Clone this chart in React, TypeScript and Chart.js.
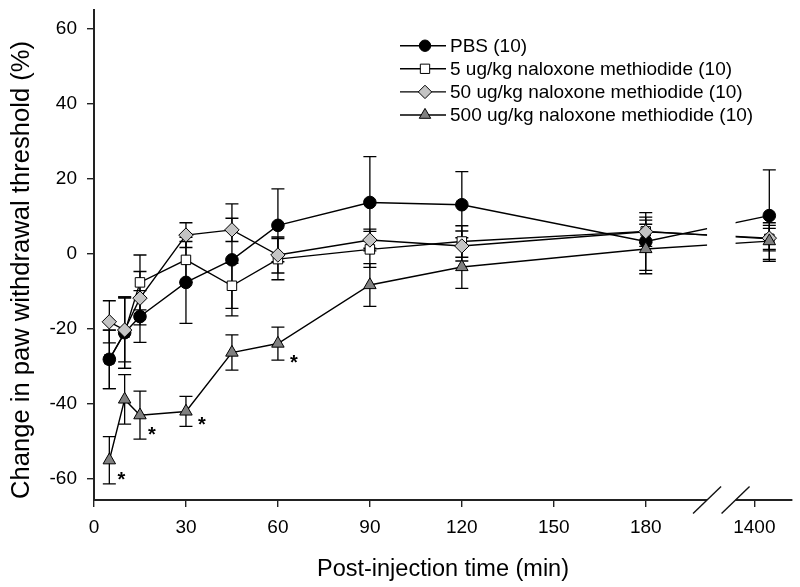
import React, { useEffect, useRef } from "react";
import { Chart, registerables } from "chart.js";

Chart.register(...registerables);

const FONT = "'Liberation Sans', Arial, sans-serif";

// Time points (min)
const TIMES = [5, 10, 15, 30, 45, 60, 90, 120, 180, 1440];

const SERIES_NAMES = [
  "PBS (10)",
  "5 ug/kg naloxone methiodide (10)",
  "50 ug/kg naloxone methiodide (10)",
  "500 ug/kg naloxone methiodide (10)",
];

const PBS = [-28.1, -21.0, -16.7, -7.6, -1.6, 7.6, 13.7, 13.1, 3.3, 10.2];
const PBS_SEM = [7.8, 9.5, 6.9, 10.9, 14.9, 9.7, 12.2, 8.8, 7.7, 12.2];

const NMX5 = [-28.1, -21.0, -7.6, -1.6, -8.5, -1.4, 1.2, 3.3, 6.0, 4.0];
const NMX5_SEM = [7.8, 9.5, 7.3, 6.0, 6.0, 5.5, 4.8, 4.2, 3.0, 2.8];

const NMX50 = [-18.1, -20.3, -11.8, 5.0, 6.4, -0.3, 3.7, 2.1, 5.9, 4.2];
const NMX50_SEM = [5.6, 8.5, 7.1, 3.3, 3.1, 4.8, 2.9, 4.0, 3.9, 3.4];

const NMX500 = [-55.0, -38.8, -43.0, -42.0, -26.3, -23.9, -8.3, -3.5, 1.3, 3.4];
const NMX500_SEM = [6.3, 6.6, 6.4, 4.0, 4.7, 4.4, 5.7, 5.7, 6.6, 4.9];

// Significance marks on the 500 ug/kg series (indices into TIMES)
const STAR_INDEX = [0, 2, 3, 5];

const X_TICKS = [0, 30, 60, 90, 120, 150, 180, 1400];
const Y_TICKS = [-60, -40, -20, 0, 20, 40, 60];

// Broken x axis: 0..200, gap, 1350..1500 (compressed)
const BREAK_START = 200;
const BREAK_END = 1350;
const AXIS_END = 1500;
const GAP_UNITS = 9.3;
const SEG2_SCALE = 0.1223;

function mapX(t: number): number {
  return t <= BREAK_START ? t : BREAK_START + GAP_UNITS + (t - BREAK_END) * SEG2_SCALE;
}

type Style = "circle" | "rect" | "rectRot" | "triangle";

// z: drawing layer (higher = on top)
const STYLES: { values: number[]; sem: number[]; style: Style; fill: string; r: number; lr: number; z: number }[] = [
  { values: PBS, sem: PBS_SEM, style: "circle", fill: "#000000", r: 6.3, lr: 5.7, z: 2 },
  { values: NMX5, sem: NMX5_SEM, style: "rect", fill: "#ffffff", r: 6.7, lr: 6.6, z: 1 },
  { values: NMX50, sem: NMX50_SEM, style: "rectRot", fill: "#c4c4c4", r: 7.2, lr: 6.7, z: 3 },
  { values: NMX500, sem: NMX500_SEM, style: "triangle", fill: "#808080", r: 7.2, lr: 6.6, z: 4 },
];

function drawMarker(ctx: CanvasRenderingContext2D, style: Style, x: number, y: number, r: number, fill: string) {
  ctx.beginPath();
  if (style === "circle") {
    ctx.arc(x, y, r, 0, Math.PI * 2);
  } else if (style === "rect") {
    const s = r * Math.SQRT1_2;
    ctx.rect(x - s, y - s, 2 * s, 2 * s);
  } else if (style === "rectRot") {
    ctx.moveTo(x, y - r);
    ctx.lineTo(x + r, y);
    ctx.lineTo(x, y + r);
    ctx.lineTo(x - r, y);
    ctx.closePath();
  } else {
    ctx.moveTo(x, y - r);
    ctx.lineTo(x + r * 0.866, y + r / 2);
    ctx.lineTo(x - r * 0.866, y + r / 2);
    ctx.closePath();
  }
  ctx.fillStyle = fill;
  ctx.fill();
  ctx.strokeStyle = "#000";
  ctx.lineWidth = 1;
  ctx.stroke();
}

const errorBarPlugin = {
  id: "errorBars",
  beforeDatasetsDraw(chart: any) {
    const ctx: CanvasRenderingContext2D = chart.ctx;
    const xs = chart.scales.x;
    const ys = chart.scales.y;
    ctx.save();
    ctx.strokeStyle = "#000";
    ctx.lineWidth = 1.3;
    STYLES.forEach((s) => {
      s.values.forEach((v, i) => {
        const x = xs.getPixelForValue(mapX(TIMES[i]));
        const y1 = ys.getPixelForValue(v + s.sem[i]);
        const y2 = ys.getPixelForValue(v - s.sem[i]);
        ctx.beginPath();
        ctx.moveTo(x, y1);
        ctx.lineTo(x, y2);
        ctx.moveTo(x - 6.5, y1);
        ctx.lineTo(x + 6.5, y1);
        ctx.moveTo(x - 6.5, y2);
        ctx.lineTo(x + 6.5, y2);
        ctx.stroke();
      });
    });
    ctx.restore();
  },
};

const breakPlugin = {
  id: "axisBreak",
  afterDatasetsDraw(chart: any) {
    const ctx: CanvasRenderingContext2D = chart.ctx;
    const xs = chart.scales.x;
    const area = chart.chartArea;
    const x1 = xs.getPixelForValue(mapX(BREAK_START));
    const x2 = xs.getPixelForValue(mapX(BREAK_END));
    ctx.save();
    ctx.fillStyle = "#ffffff";
    ctx.fillRect(x1, area.top, x2 - x1, area.bottom - area.top + 2);
    ctx.strokeStyle = "#111";
    ctx.lineWidth = 1.4;
    [x1, x2].forEach((cx) => {
      ctx.beginPath();
      ctx.moveTo(cx - 14, area.bottom + 13.5);
      ctx.lineTo(cx + 14, area.bottom - 13.5);
      ctx.stroke();
    });
    ctx.restore();
  },
};

const annotationPlugin = {
  id: "annotations",
  afterDraw(chart: any) {
    const ctx: CanvasRenderingContext2D = chart.ctx;
    const xs = chart.scales.x;
    const ys = chart.scales.y;
    ctx.save();
    // asterisks
    ctx.fillStyle = "#000";
    ctx.font = `bold 20px ${FONT}`;
    ctx.textAlign = "center";
    ctx.textBaseline = "alphabetic";
    const offs = [
      [12, 14],
      [12, 14],
      [16, 8],
      [16, 14],
    ];
    STAR_INDEX.forEach((idx, k) => {
      const x = xs.getPixelForValue(mapX(TIMES[idx])) + offs[k][0];
      const y = ys.getPixelForValue(NMX500[idx]) + offs[k][1];
      ctx.fillText("*", x, y + 11.5);
    });

    // legend
    const lx0 = 400;
    const lx1 = 446;
    const mx = 425;
    const tx = 450;
    const rows = [45.7, 68.8, 91.9, 115];
    ctx.font = `19px ${FONT}`;
    ctx.textAlign = "left";
    ctx.textBaseline = "middle";
    STYLES.forEach((s, i) => {
      const y = rows[i];
      ctx.strokeStyle = "#000";
      ctx.lineWidth = 1.4;
      ctx.beginPath();
      ctx.moveTo(lx0, y);
      ctx.lineTo(lx1, y);
      ctx.stroke();
      drawMarker(ctx, s.style, mx, y, s.lr, s.fill);
      ctx.fillStyle = "#000";
      ctx.fillText(SERIES_NAMES[i], tx, y + 1);
    });

    // axis titles
    ctx.fillStyle = "#000";
    ctx.font = `23.5px ${FONT}`;
    ctx.textAlign = "center";
    ctx.textBaseline = "alphabetic";
    ctx.fillText("Post-injection time (min)", 443, 576);

    ctx.save();
    ctx.translate(22, 270);
    ctx.rotate(-Math.PI / 2);
    ctx.font = `25.6px ${FONT}`;
    ctx.textBaseline = "middle";
    ctx.fillText("Change in paw withdrawal threshold (%)", 0, 0);
    ctx.restore();

    ctx.restore();
  },
};

export default function App() {
  const ref = useRef<HTMLCanvasElement>(null);

  useEffect(() => {
    const canvas = ref.current;
    if (!canvas) return;
    const datasets = STYLES.map((s, i) => ({
      label: SERIES_NAMES[i],
      data: TIMES.map((t, j) => ({ x: mapX(t), y: s.values[j] })),
      borderColor: "#000",
      borderWidth: 1.4,
      tension: 0,
      pointStyle: s.style,
      pointRadius: s.r,
      pointHoverRadius: s.r,
      pointBackgroundColor: s.fill,
      pointBorderColor: "#000",
      pointBorderWidth: 1,
      order: 10 - s.z,
    }));

    const tickFont = { family: FONT, size: 19 };

    const chart = new Chart(canvas, {
      type: "line",
      data: { datasets },
      options: {
        responsive: false,
        animation: false,
        devicePixelRatio: 1,
        layout: { padding: { top: 10, right: 7, left: 0, bottom: 0 } },
        plugins: { legend: { display: false }, tooltip: { enabled: false } },
        scales: {
          x: {
            type: "linear",
            min: 0,
            max: mapX(AXIS_END),
            afterBuildTicks: (s: any) => {
              s.ticks = X_TICKS.map((t) => ({ value: mapX(t) }));
            },
            afterFit: (s: any) => {
              s.height = 87;
              s.paddingLeft = 0;
              s.paddingRight = 0;
            },
            grid: { drawOnChartArea: false, drawTicks: true, tickLength: 7, color: "#222", lineWidth: 1.4 },
            border: { display: true, color: "#222", width: 2 },
            ticks: {
              autoSkip: false,
              maxRotation: 0,
              padding: 9,
              color: "#000",
              font: tickFont,
              callback: (_v: any, i: number) => String(X_TICKS[i]),
            },
          },
          y: {
            type: "linear",
            min: -65.6,
            max: 65,
            afterBuildTicks: (s: any) => {
              s.ticks = Y_TICKS.map((v) => ({ value: v }));
            },
            afterFit: (s: any) => {
              s.width = 94;
              s.paddingTop = 0;
              s.paddingBottom = 0;
            },
            grid: { drawOnChartArea: false, drawTicks: true, tickLength: 7, color: "#222", lineWidth: 1.4 },
            border: { display: true, color: "#222", width: 2 },
            ticks: {
              padding: 10,
              color: "#000",
              font: tickFont,
              callback: (v: any) => String(v),
            },
          },
        },
      } as any,
      plugins: [errorBarPlugin, breakPlugin, annotationPlugin],
    });
    return () => chart.destroy();
  }, []);

  return (
    <div style={{ position: "absolute", left: 0, top: 0, width: 800, height: 587, background: "#fff" }}>
      <canvas ref={ref} width={800} height={587} style={{ width: 800, height: 587, display: "block" }} />
    </div>
  );
}
